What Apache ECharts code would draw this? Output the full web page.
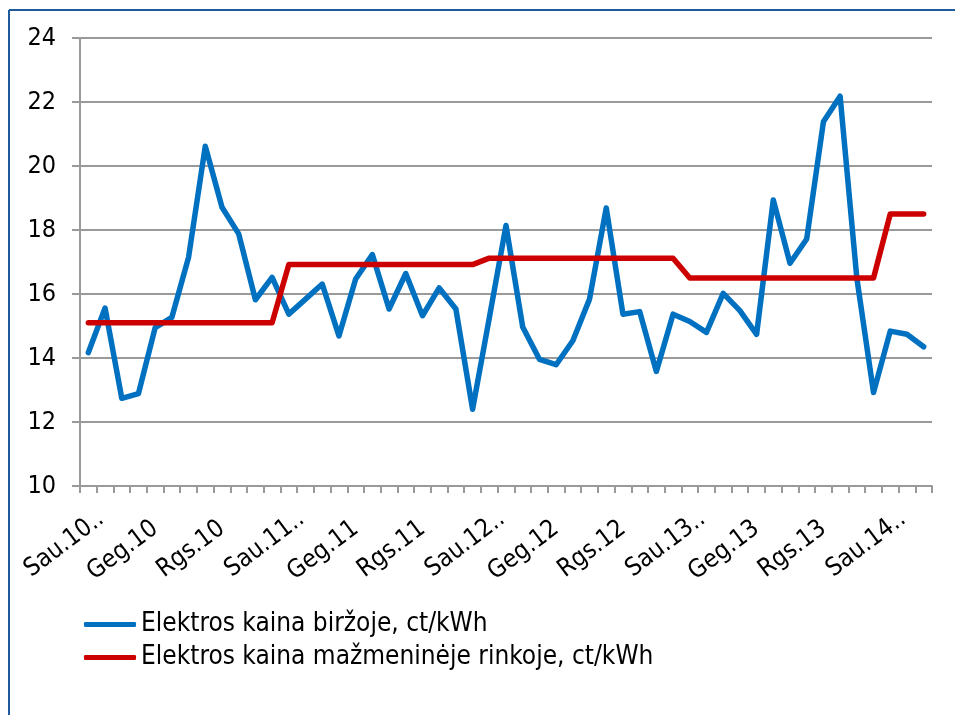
<!DOCTYPE html>
<html>
<head>
<meta charset="utf-8">
<script src="https://cdn.jsdelivr.net/npm/echarts@6/dist/echarts.min.js"></script>
<style>
  html, body { margin: 0; padding: 0; background: #fff; }
  #chart { width: 955px; height: 715px; }
</style>
</head>
<body>
<div id="chart"></div>
<script>
// monthly categories, Jan 2010 .. Mar 2014
const months = ['Sau', 'Vas', 'Kov', 'Bal', 'Geg', 'Bir', 'Lie', 'Rgp', 'Rgs', 'Spa', 'Lap', 'Grd'];
const years = ['10', '11', '12', '13', '14'];
const categories = [];
years.forEach(y => {
  months.forEach((m, i) => {
    if (categories.length < 51) categories.push(m + '.' + y + (i === 0 ? '..' : ''));
  });
});

const exchangePrice = [
  14.17, 15.56, 12.74, 12.89, 14.95, 15.27, 17.15, 20.62, 18.71, 17.88, 15.82, 16.52,
  15.37, 15.84, 16.31, 14.69, 16.47, 17.23, 15.53, 16.64, 15.32, 16.19, 15.53, 12.40,
  15.25, 18.14, 14.97, 13.96, 13.79, 14.54, 15.84, 18.69, 15.37, 15.45, 13.58, 15.37,
  15.14, 14.80, 16.02, 15.48, 14.74, 18.94, 16.96, 17.72, 21.38, 22.18, 16.50, 12.92,
  14.84, 14.74, 14.35
];
const retailPrice = [
  15.1, 15.1, 15.1, 15.1, 15.1, 15.1, 15.1, 15.1, 15.1, 15.1, 15.1, 15.1,
  16.92, 16.92, 16.92, 16.92, 16.92, 16.92, 16.92, 16.92, 16.92, 16.92, 16.92, 16.92,
  17.12, 17.12, 17.12, 17.12, 17.12, 17.12, 17.12, 17.12, 17.12, 17.12, 17.12, 17.12,
  16.5, 16.5, 16.5, 16.5, 16.5, 16.5, 16.5, 16.5, 16.5, 16.5, 16.5, 16.5,
  18.5, 18.5, 18.5
];

const font = '"DejaVu Sans Condensed", "DejaVu Sans", sans-serif';
const gray = '#9a9a9a';

const chart = echarts.init(document.getElementById('chart'), null, { renderer: 'canvas' });
chart.setOption({
  animation: false,
  backgroundColor: '#fff',
  graphic: [
    { type: 'line', shape: { x1: 9, y1: 10, x2: 955, y2: 10 }, style: { stroke: '#1f5a9c', lineWidth: 2 } },
    { type: 'line', shape: { x1: 9, y1: 10, x2: 9, y2: 715 }, style: { stroke: '#1f5a9c', lineWidth: 2 } }
  ],
  grid: { left: 80, right: 23, top: 38, bottom: 229, containLabel: false },
  legend: {
    orient: 'vertical',
    left: 79,
    top: 606,
    icon: 'roundRect',
    itemWidth: 52,
    itemHeight: 5,
    itemGap: 6,
    textStyle: { fontFamily: font, fontSize: 26, color: '#000', padding: [0, 0, 0, 0], lineHeight: 27 },
    data: ['Elektros kaina biržoje, ct/kWh', 'Elektros kaina mažmeninėje rinkoje, ct/kWh']
  },
  xAxis: {
    type: 'category',
    data: categories,
    boundaryGap: true,
    axisLine: { lineStyle: { color: gray, width: 2 } },
    axisTick: { show: true, interval: 0, length: 7, lineStyle: { color: gray, width: 2 } },
    axisLabel: {
      interval: 3,
      rotate: 37,
      margin: 40,
      fontFamily: font,
      fontSize: 25,
      color: '#000',
      formatter: v => v.endsWith('..') ? '{e|' + v + '}' : v,
      rich: { e: { fontFamily: font, fontSize: 25, color: '#000', padding: [0, -16, 0, 0] } }
    },
    splitLine: { show: false }
  },
  yAxis: {
    type: 'value',
    min: 10,
    max: 24,
    interval: 2,
    axisLine: { show: true, lineStyle: { color: gray, width: 2 } },
    axisTick: { show: true, length: 8, lineStyle: { color: gray, width: 2 } },
    axisLabel: { margin: 24, fontFamily: font, fontSize: 25, color: '#000' },
    splitLine: { lineStyle: { color: gray, width: 2 } }
  },
  series: [
    {
      name: 'Elektros kaina biržoje, ct/kWh',
      type: 'line',
      data: exchangePrice,
      symbol: 'none',
      color: '#0070c0',
      lineStyle: { width: 5.5, color: '#0070c0', join: 'round', cap: 'round' }
    },
    {
      name: 'Elektros kaina mažmeninėje rinkoje, ct/kWh',
      type: 'line',
      data: retailPrice,
      symbol: 'none',
      color: '#cc0000',
      lineStyle: { width: 5.5, color: '#cc0000', join: 'round', cap: 'round' }
    }
  ]
});
</script>
</body>
</html>
